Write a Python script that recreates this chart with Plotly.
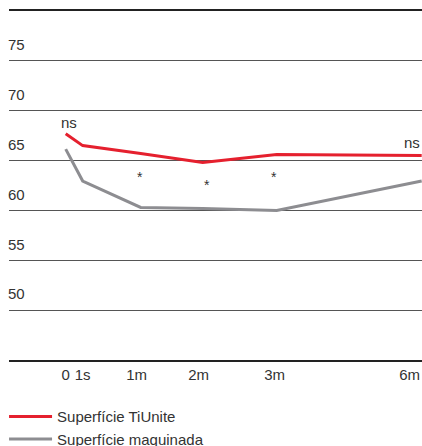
import plotly.graph_objects as go

# ---- data ----
x_labels = ["0", "1s", "1m", "2m", "3m", "6m"]
x_pos = [0, 17, 75, 137, 211, 356]          # category positions on the x axis
tick_pos = [0, 17, 71, 133, 209, 344]       # where the tick labels sit
tiunite = [67.7, 66.5, 65.7, 64.8, 65.6, 65.5]
maquinada = [66.15, 62.95, 60.3, 60.2, 60.0, 62.95]
y_ticks = [45, 50, 55, 60, 65, 70, 75, 80]
y_ticktext = ["", "50", "55", "60", "65", "70", "75", ""]

ns_x = [3, 346]
ns_y = [68.86, 66.86]
star_x = [74, 141, 208]
star_y = [63.45, 62.67, 63.42]

RED = "#e5202e"
GREY = "#8d8d91"
TXT = "#333333"
FONT = "Liberation Sans, Arial, Helvetica, sans-serif"

fig = go.Figure()
fig.add_trace(go.Scatter(x=x_pos, y=tiunite, mode="lines", name="Superfície TiUnite",
                         line=dict(color=RED, width=3), legendgroup="a"))
fig.add_trace(go.Scatter(x=x_pos, y=maquinada, mode="lines", name="Superfície maquinada",
                         line=dict(color=GREY, width=3), legendgroup="b"))

for x, y in zip(ns_x, ns_y):
    fig.add_annotation(x=x, y=y, text="ns", showarrow=False,
                       font=dict(size=15, color=TXT, family=FONT))
for x, y in zip(star_x, star_y):
    fig.add_annotation(x=x, y=y, text="*", showarrow=False, yshift=-1,
                       font=dict(size=14, color=TXT, family=FONT))

fig.update_layout(
    width=422, height=446,
    margin=dict(l=9, r=0, t=11, b=86, autoexpand=False),
    paper_bgcolor="white", plot_bgcolor="white",
    font=dict(family=FONT, size=15, color=TXT),
    showlegend=True,
    legend=dict(x=-0.012, y=-0.115, xanchor="left", yanchor="top",
                itemwidth=43, tracegroupgap=0,
                font=dict(size=15, color=TXT, family=FONT),
                bgcolor="rgba(0,0,0,0)"),
    xaxis=dict(range=[-56.7, 356.3], tickvals=tick_pos, ticktext=x_labels,
               tickangle=0, automargin=False,
               showgrid=False, zeroline=False, showline=True, mirror=True,
               linecolor="#222222", linewidth=2, ticks="",
               tickfont=dict(size=15, color=TXT)),
    yaxis=dict(range=[45, 80], tickvals=y_ticks, ticktext=y_ticktext,
               automargin=False,
               showgrid=True, gridcolor="#555555", gridwidth=1,
               zeroline=False, showline=False, ticks="",
               ticklabelposition="inside", ticklabelshift=-16,
               ticklabelstandoff=-4,
               tickfont=dict(size=15, color=TXT)),
)

# remove the browser's default 8px body margin so the figure fills the window
fig.write_html("out.html",
               config={"displayModeBar": False},
               post_script="document.body.style.margin='0';"
                           "document.body.style.overflow='hidden';")
